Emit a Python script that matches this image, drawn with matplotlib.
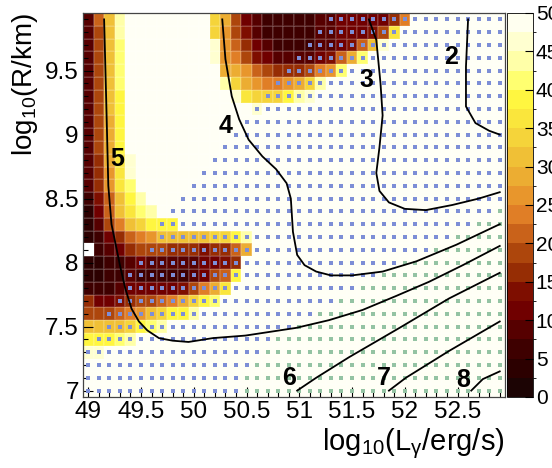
import matplotlib as mpl
import matplotlib.pyplot as plt
import numpy as np
from matplotlib.colors import ListedColormap, BoundaryNorm
from matplotlib.ticker import MultipleLocator, FormatStrFormatter

mpl.rcParams['font.family'] = 'Liberation Sans'
mpl.rcParams['mathtext.default'] = 'regular'

# bin centres of the 2D histogram (log10 L, log10 R)
x_centers = np.round(np.arange(49.0, 52.95, 0.1), 1)
y_centers = np.round(np.arange(7.0, 9.95, 0.1), 1)

# cell levels, row 0 = log10 R 7.0 (bottom)
# '0'..'j' = palette band (2.5 wide), '.' = above 50, '-' = empty bin
z_rows = [
    '........................................',
    '........................................',
    '........................................',
    'ii......................................',
    'fffgh...................................',
    'ccccdfgh................................',
    '77789acdffh.............................',
    '644567789bdfg...........................',
    '222344444579be..........................',
    '11223222223478f.........................',
    '112234333334456.........................',
    '-23467776665668b........................',
    '124689acccccddfh........................',
    '1379cdfff...............................',
    '148cegh.................................',
    '258cfh..................................',
    '36aeg...................................',
    '36aei...................................',
    '36bei...................................',
    '37bf....................................',
    '37bf....................................',
    '37bf....................................',
    '37cf............i.......................',
    '37cf..........iedddfhi..................',
    '37cg.........hdba99abdh.................',
    '37cg.........bba8766679ag...............',
    '37cg........ia97543333458bg.............',
    '37cg........ia8643222233458ci...........',
    '37ch........da753222223344457e..........',
    '38ch........db74322222334444469.........',
]

# first column with a marker and first column with a green marker, per row
dot_start = [0, 0, 0, 0, 1, 2, 2, 3, 4, 4, 5, 6, 7, 7, 8, 9, 10, 11, 12, 13,
             14, 15, 16, 17, 18, 19, 20, 21, 22, 23]
green_start = [15, 15, 16, 17, 18, 20, 22, 24, 26, 28, 30, 33, 35, 37, 39] + [40] * 15

palette = ['#1c0404', '#2c0000', '#3e0000', '#560000', '#700000',
           '#7e0e00', '#962d04', '#ad460c', '#c9621a', '#e07e26',
           '#e8962c', '#ecad32', '#f0c036', '#f5d43a', '#fae63c',
           '#fff640', '#ffff70', '#ffffa8', '#ffffd0', '#fffff0']
over_color = '#fffff5'

# contour lines (log10 L, log10 R)
contours = {
    '2': [(52.60, 9.90), (52.58, 9.53), (52.58, 9.22), (52.67, 9.09), (52.80, 9.03), (52.90, 9.00)],
    '3': [(51.66, 9.90), (51.73, 9.74), (51.77, 9.40), (51.79, 9.15), (51.76, 8.90), (51.73, 8.70),
          (51.76, 8.56), (51.85, 8.47), (52.00, 8.42), (52.20, 8.41), (52.45, 8.45), (52.70, 8.50),
          (52.90, 8.55)],
    '4': [(50.27, 9.90), (50.30, 9.59), (50.36, 9.30), (50.43, 9.12), (50.52, 8.96), (50.65, 8.83),
          (50.78, 8.73), (50.88, 8.62), (50.92, 8.50), (50.94, 8.24), (50.98, 8.06), (51.05, 7.98),
          (51.16, 7.93), (51.30, 7.90), (51.50, 7.90), (51.79, 7.93), (52.11, 8.01), (52.49, 8.14),
          (52.90, 8.30)],
    '5': [(49.15, 9.90), (49.17, 9.27), (49.19, 8.60), (49.22, 8.30), (49.30, 7.98), (49.35, 7.80),
          (49.41, 7.64), (49.48, 7.54), (49.56, 7.47), (49.67, 7.41), (49.80, 7.39), (49.95, 7.38),
          (50.18, 7.41), (50.49, 7.43), (50.97, 7.49), (51.28, 7.55), (51.60, 7.63), (51.92, 7.74),
          (52.23, 7.85), (52.55, 7.98), (52.90, 8.13)],
    '6': [(50.98, 7.00), (51.16, 7.10), (51.47, 7.26), (51.95, 7.49), (52.42, 7.72), (52.90, 7.92)],
    '7': [(51.85, 7.00), (52.01, 7.10), (52.42, 7.31), (52.90, 7.54)],
    '8': [(52.63, 7.00), (52.74, 7.09), (52.90, 7.15)],
}
label_pos = {'2': (52.44, 9.61), '3': (51.64, 9.43), '4': (50.30, 9.07), '5': (49.27, 8.81),
             '6': (50.90, 7.10), '7': (51.80, 7.10), '8': (52.55, 7.08)}

symbols = '0123456789abcdefghij'
Z = np.full((len(y_centers), len(x_centers)), np.nan)
for j, row in enumerate(z_rows):
    for i, ch in enumerate(row[:40]):
        if ch == '.':
            Z[j, i] = 55.0
        elif ch != '-':
            Z[j, i] = 2.5 * symbols.index(ch) + 1.25

x_edges = np.append(x_centers - 0.05, x_centers[-1] + 0.05)
y_edges = np.append(y_centers - 0.05, y_centers[-1] + 0.05)

cmap = ListedColormap(palette)
cmap.set_over(over_color)
levels = np.arange(0, 50.01, 2.5)
norm = BoundaryNorm(levels, cmap.N)

fig = plt.figure(figsize=(5.52, 4.68), dpi=100)
ax = fig.add_axes([83 / 552, 71 / 468, 422 / 552, 384 / 468])
ax.set_facecolor('white')

mesh = ax.pcolormesh(x_edges, y_edges, np.ma.masked_invalid(Z), cmap=cmap, norm=norm,
                     edgecolors=(1, 1, 1, 0.12), linewidth=0.3)

bx, by, gx, gy = [], [], [], []
for j, (s, g) in enumerate(zip(dot_start, green_start)):
    for i in range(s, len(x_centers)):
        if i >= g:
            gx.append(x_centers[i]); gy.append(y_centers[j])
        else:
            bx.append(x_centers[i]); by.append(y_centers[j])
ax.scatter(bx, by, marker='s', s=11, color='#7d8ed6', linewidths=0, zorder=3)
ax.scatter(gx, gy, marker='s', s=11, color='#94c3a3', linewidths=0, zorder=3)

for name, pts in contours.items():
    xs, ys = zip(*pts)
    ax.plot(xs, ys, color='black', lw=1.3, zorder=4)
    lx, ly = label_pos[name]
    ax.text(lx, ly, name, fontsize=18, fontweight='bold', ha='center', va='center', zorder=5)

ax.set_xlim(48.95, 52.95)
ax.set_ylim(6.95, 9.95)
ax.set_xticks(np.arange(49, 52.6, 0.5))
ax.set_yticks(np.arange(7, 9.6, 0.5))
ax.xaxis.set_minor_locator(MultipleLocator(0.1))
ax.yaxis.set_minor_locator(MultipleLocator(0.1))
ax.xaxis.set_major_formatter(FormatStrFormatter('%g'))
ax.yaxis.set_major_formatter(FormatStrFormatter('%g'))
ax.tick_params(which='both', direction='in', top=False, right=False, labelsize=17.5, width=0.8)
ax.tick_params(which='major', length=7, pad=3)
ax.tick_params(which='minor', length=3.5)
for sp in ax.spines.values():
    sp.set_linewidth(0.9)
    sp.set_color('#444444')
    sp.set_zorder(6)

cax = fig.add_axes([507 / 552, 71 / 468, 26 / 552, 384 / 468])
cb = fig.colorbar(mpl.cm.ScalarMappable(norm=norm, cmap=cmap), cax=cax, ticks=np.arange(0, 51, 5))
cb.outline.set_linewidth(0.6)
cax.tick_params(direction='in', length=6, width=0.8, labelsize=15, pad=2)
cax.yaxis.set_major_formatter(FormatStrFormatter('%g'))

fig.text(25 / 552, 1 - 13 / 468, r'log$_{10}$(R/km)', rotation=90, ha='center', va='top', fontsize=20)
fig.text(505 / 552, 1 - 444 / 468, r'log$_{10}$(L$_{\gamma}$/erg/s)', ha='right', va='center', fontsize=21)

fig.savefig('out.png', dpi=100)
